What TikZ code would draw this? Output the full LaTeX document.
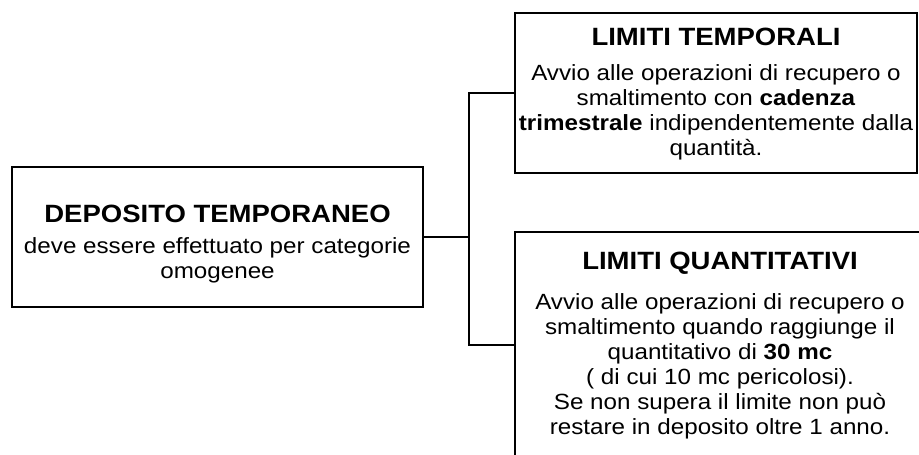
\documentclass[tikz,border=0pt]{standalone}
\usepackage{fontspec}
\setmainfont{Liberation Sans}[FakeStretch=1.1]
\newcommand{\titolo}[1]{{\fontsize{25}{30}\selectfont\bfseries #1}}
\begin{document}
\begin{tikzpicture}[x=1pt,y=1pt]
\tikzstyle{box} = [draw, line width=2.8pt, inner sep=0pt]
\tikzstyle{testo} = [align=center, inner sep=0pt, font=\fontsize{22}{25}\selectfont]
\tikzstyle{conn} = [line width=2.8pt]
\useasboundingbox (0,0) rectangle (919,-455);
\clip (0,0) rectangle (919,-455);
	% caselle
	\node[box, minimum width=411, minimum height=140] (deposito) at (217.5,-237) {};
	\node[box, minimum width=402, minimum height=160] (temporali) at (716,-93) {};
	\node[box, minimum width=440, minimum height=226] (quantitativi) at (735,-345) {};
	% testi
	\node[testo] (deposito-t) at ([yshift=-7]deposito.center)
	{\titolo{DEPOSITO TEMPORANEO}\\[6pt]
	deve essere effettuato per categorie\\ omogenee};
	\node[testo] (temporali-t) at ([yshift=-1.5]temporali.center)
	{\titolo{LIMITI TEMPORALI}\\[10pt]
	Avvio alle operazioni di recupero o\\
	smaltimento con \textbf{cadenza}\\
	\textbf{trimestrale} indipendentemente dalla\\
	quantità.};
	\node[testo] (quantitativi-t) at (720,-345.5)
	{\titolo{LIMITI QUANTITATIVI}\\[15pt]
	Avvio alle operazioni di recupero o\\
	smaltimento quando raggiunge il\\
	quantitativo di \textbf{30 mc}\\
	( di cui 10 mc pericolosi).\\
	Se non supera il limite non può\\
	restare in deposito oltre 1 anno.};
	% collegamenti
	\coordinate (split) at (469,-237);
	\draw[conn] (deposito.east) -- (split);
	\draw[conn] (temporali.west) -| (split) |- (quantitativi.west);
\end{tikzpicture}
\end{document}
